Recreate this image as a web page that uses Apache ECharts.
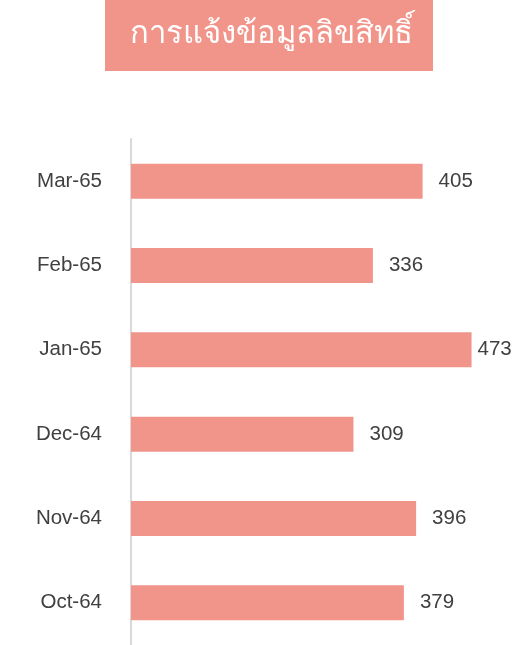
<!DOCTYPE html>
<html>
<head>
<meta charset="utf-8">
<script src="https://cdn.jsdelivr.net/npm/echarts@6/dist/echarts.min.js"></script>
<style>
  html, body { margin: 0; padding: 0; background: #fff; }
  #chart { width: 530px; height: 645px; }
</style>
</head>
<body>
<div id="chart"></div>
<script>
const titleText = 'การแจ้งข้อมูลลิขสิทธิ์'
const months = ['Oct-64', 'Nov-64', 'Dec-64', 'Jan-65', 'Feb-65', 'Mar-65']
const counts = [379, 396, 309, 473, 336, 405]

const chart = echarts.init(document.getElementById('chart'))

// the longest bar's label sits tight against the bar so it fits
const maxCount = Math.max(...counts)
const barData = counts.map(v => (
  v === maxCount ? { value: v, label: { distance: 6 } } : v
))

const option = {
  animation: false,
  title: {
    text: titleText,
    left: 105,
    top: 0,
    backgroundColor: '#F1948A',
    padding: [19, 20, 21, 25],
    textStyle: {
      color: '#fff',
      fontSize: 31,
      fontWeight: 'normal',
      fontFamily: 'Noto Sans, DejaVu Sans, sans-serif'
    }
  },
  grid: {
    left: 131,
    right: 39,
    top: 139,
    bottom: -2,
    containLabel: false
  },
  xAxis: {
    type: 'value',
    min: 0,
    max: 500,
    show: false
  },
  yAxis: {
    type: 'category',
    data: months,
    axisLine: { lineStyle: { color: '#d9d9d9', width: 2 } },
    axisTick: { show: false },
    axisLabel: {
      margin: 29,
      fontSize: 20.5,
      color: '#404040',
      fontFamily: 'Liberation Sans, Arial, sans-serif'
    }
  },
  series: [
    {
      type: 'bar',
      data: barData,
      barWidth: 35,
      itemStyle: { color: '#F1948A' },
      label: {
        show: true,
        position: 'right',
        distance: 16,
        fontSize: 20.5,
        color: '#404040',
        fontFamily: 'Liberation Sans, Arial, sans-serif'
      }
    }
  ]
}

chart.setOption(option)
</script>
</body>
</html>
